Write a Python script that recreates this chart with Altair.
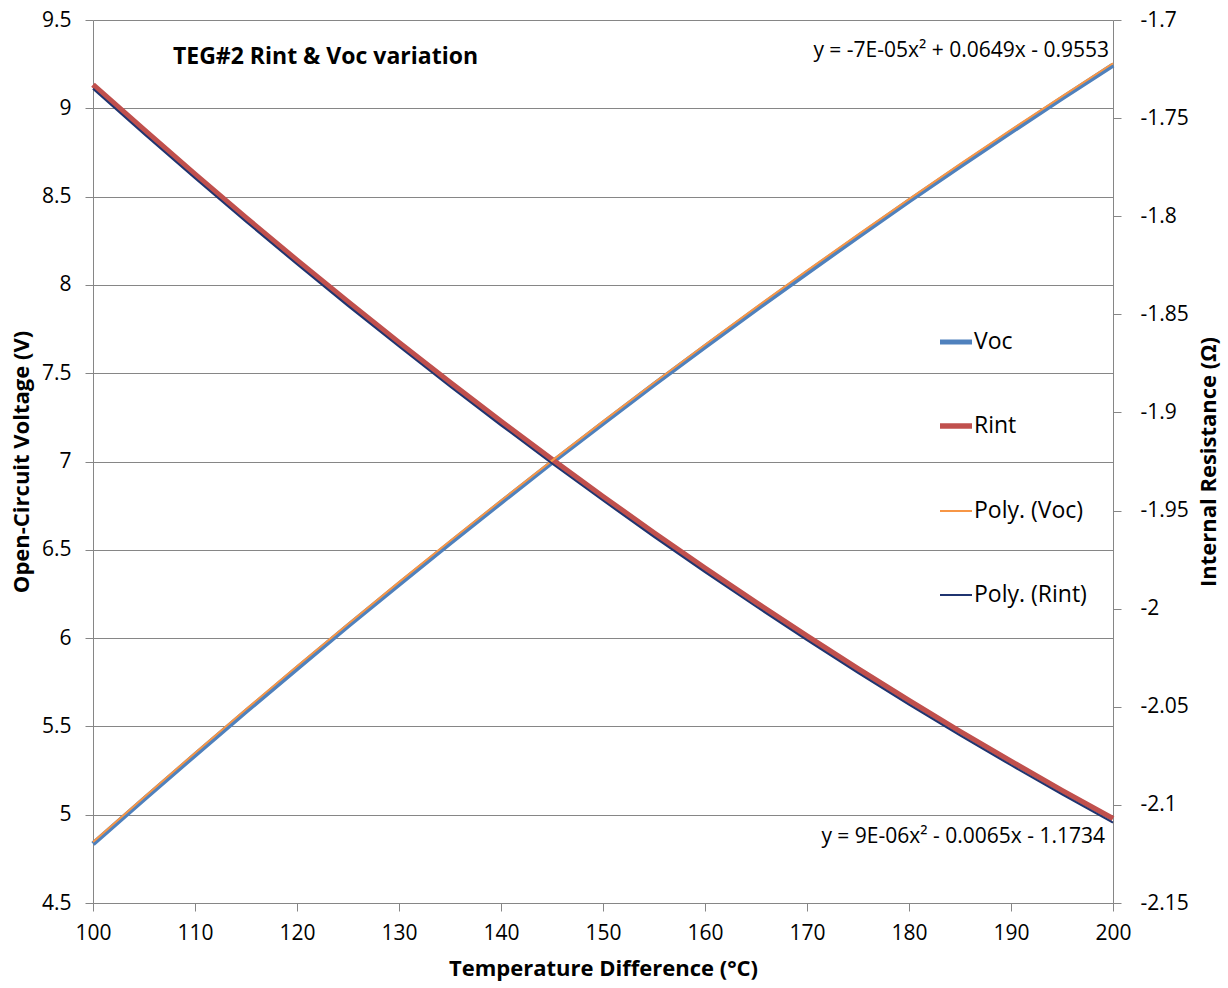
import altair as alt
import pandas as pd

# ---- data ----
temp = [100, 105, 110, 115, 120, 125, 130, 135, 140, 145, 150,
        155, 160, 165, 170, 175, 180, 185, 190, 195, 200]
voc = [4.835, 5.088, 5.338, 5.585, 5.828, 6.069, 6.305, 6.538, 6.768, 6.995, 7.217,
       7.436, 7.650, 7.861, 8.068, 8.273, 8.475, 8.672, 8.866, 9.057, 9.245]
voc_poly = [4.845, 5.099, 5.350, 5.597, 5.840, 6.080, 6.317, 6.550, 6.779, 7.005, 7.227,
            7.446, 7.661, 7.873, 8.081, 8.285, 8.486, 8.684, 8.878, 9.068, 9.255]
rint = [-1.733, -1.756, -1.7786, -1.8008, -1.8225, -1.8437, -1.8644, -1.8847, -1.9046, -1.9240, -1.9429,
        -1.9614, -1.9794, -1.9969, -2.0140, -2.0307, -2.0469, -2.0626, -2.0778, -2.0927, -2.1070]
rint_poly = [-1.735, -1.7581, -1.7806, -1.8028, -1.8245, -1.8457, -1.8664, -1.8868, -1.9066, -1.9260, -1.9449,
             -1.9634, -1.9814, -1.9989, -2.0160, -2.0327, -2.0489, -2.0646, -2.0798, -2.0946, -2.1090]

x_ticks = [100, 110, 120, 130, 140, 150, 160, 170, 180, 190, 200]
left_ticks = [4.5, 5, 5.5, 6, 6.5, 7, 7.5, 8, 8.5, 9, 9.5]
right_ticks = [-2.15, -2.1, -2.05, -2, -1.95, -1.9, -1.85, -1.8, -1.75, -1.7]

legend_names = ["Voc", "Rint", "Poly. (Voc)", "Poly. (Rint)"]
legend_colors = ["#4F81BD", "#C0504D", "#F79646", "#1F3470"]
legend_widths = [5, 5.5, 2, 2]

title_text = "TEG#2 Rint & Voc variation"
eq_voc = "y = -7E-05x\u00b2 + 0.0649x - 0.9553"
eq_rint = "y = 9E-06x\u00b2 - 0.0065x - 1.1734"

FONT = "Open Sans"
W, H = 1020, 883
GRID = "#868686"

df = pd.DataFrame({"T": temp, "voc": voc, "voc_poly": voc_poly,
                   "rint": rint, "rint_poly": rint_poly})

xscale = alt.Scale(domain=[100, 200], nice=False)

xenc = alt.X("T:Q", scale=xscale,
             axis=alt.Axis(values=x_ticks, grid=False, title="Temperature Difference (\u00b0C)",
                           labelExpr="datum.value + ''", tickSize=8, labelPadding=11,
                           labelFlush=False, titlePadding=15,
                           domainColor=GRID, tickColor=GRID,
                           labelFontSize=21, titleFontSize=22, titleFontWeight="bold",
                           labelColor="black", titleColor="black", labelFont=FONT, titleFont=FONT))

left_scale = alt.Scale(domain=[4.5, 9.5], nice=False, zero=False)
right_scale = alt.Scale(domain=[-2.15, -1.7], nice=False, zero=False)

base = alt.Chart(df)

voc_line = base.mark_line(color=legend_colors[0], strokeWidth=legend_widths[0]).encode(
    x=xenc,
    y=alt.Y("voc:Q", scale=left_scale,
            axis=alt.Axis(values=left_ticks, grid=True, gridColor=GRID, gridWidth=1,
                          title="Open-Circuit Voltage (V)", labelExpr="datum.value + ''",
                          tickSize=8, labelPadding=14, labelFlush=False, titlePadding=8,
                          domainColor=GRID, tickColor=GRID,
                          labelFontSize=21, titleFontSize=22, titleFontWeight="bold",
                          labelColor="black", titleColor="black", labelFont=FONT, titleFont=FONT)))

rint_line = base.mark_line(color=legend_colors[1], strokeWidth=legend_widths[1]).encode(
    x=alt.X("T:Q", scale=xscale),
    y=alt.Y("rint:Q", scale=right_scale,
            axis=alt.Axis(orient="right", values=right_ticks, grid=False,
                          title="Internal Resistance (\u03a9)", labelExpr="datum.value + ''",
                          tickSize=8, labelPadding=19, labelFlush=False, titlePadding=10,
                          titleAngle=270, titleBaseline="top",
                          domainColor=GRID, tickColor=GRID,
                          labelFontSize=21, titleFontSize=22, titleFontWeight="bold",
                          labelColor="black", titleColor="black", labelFont=FONT, titleFont=FONT)))

voc_poly_line = base.mark_line(color=legend_colors[2], strokeWidth=legend_widths[2]).encode(
    x=alt.X("T:Q", scale=xscale),
    y=alt.Y("voc_poly:Q", scale=left_scale, axis=None))

rint_poly_line = base.mark_line(color=legend_colors[3], strokeWidth=legend_widths[3]).encode(
    x=alt.X("T:Q", scale=xscale),
    y=alt.Y("rint_poly:Q", scale=right_scale, axis=None))

# texts
title_mark = alt.Chart(pd.DataFrame({"t": [title_text]})).mark_text(
    align="left", baseline="middle", font=FONT, fontSize=23, fontWeight="bold", color="black"
).encode(x=alt.value(80), y=alt.value(37), text="t:N")

eq1 = alt.Chart(pd.DataFrame({"t": [eq_voc]})).mark_text(
    align="right", baseline="middle", font=FONT, fontSize=21, color="black"
).encode(x=alt.value(1016), y=alt.value(31), text="t:N")

eq2 = alt.Chart(pd.DataFrame({"t": [eq_rint]})).mark_text(
    align="right", baseline="middle", font=FONT, fontSize=21, color="black"
).encode(x=alt.value(1012), y=alt.value(817), text="t:N")

# custom legend
legend_rows_y = [322, 406, 491, 575]
legend_layers = []
for name, col, wd, yy in zip(legend_names, legend_colors, legend_widths, legend_rows_y):
    d = pd.DataFrame({"t": [name]})
    legend_layers.append(alt.Chart(d).mark_rule(color=col, strokeWidth=wd).encode(
        x=alt.value(847), x2=alt.value(879), y=alt.value(yy)))
    legend_layers.append(alt.Chart(d).mark_text(
        align="left", baseline="middle", font=FONT, fontSize=23, color="black"
    ).encode(x=alt.value(881), y=alt.value(yy), text="t:N"))

chart = alt.layer(
    voc_line, rint_line, voc_poly_line, rint_poly_line, title_mark, eq1, eq2, *legend_layers
).resolve_scale(y="independent").properties(
    width=W, height=H,
    padding={"left": 93, "top": 20, "right": 115, "bottom": 85},
    autosize=alt.AutoSizeParams(type="none"),
    background="white",
).configure_view(strokeWidth=0)

chart.save("out.html", embed_options={"renderer": "svg", "actions": False})
